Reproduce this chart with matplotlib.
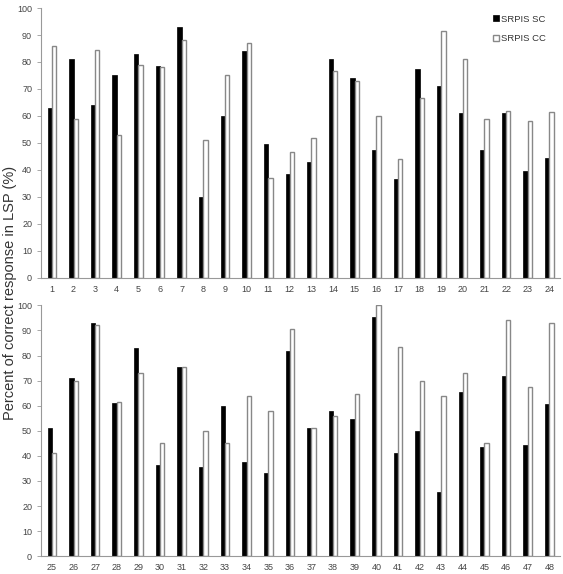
import matplotlib
matplotlib.use("Agg")
import matplotlib.pyplot as plt
import numpy as np

plt.rcParams['font.family'] = ['Liberation Sans', 'DejaVu Sans']

# Subject numbers
subjects_top = list(range(1, 25))
subjects_bottom = list(range(25, 49))

# Percent of correct response in LSP (%)
sc_top = [63, 81, 64, 75, 83, 78.5, 93, 30, 60, 84, 49.5, 38.5,
          43, 81, 74, 47.5, 36.5, 77.5, 71, 61, 47.5, 61, 39.5, 44.5]
cc_top = [86, 59, 84.5, 53, 79, 78, 88, 51, 75, 87, 37, 46.5,
          52, 76.5, 73, 60, 44, 66.5, 91.5, 81, 59, 62, 58, 61.5]
sc_bottom = [51, 71, 93, 61, 83, 36.5, 75.5, 35.5, 60, 37.5, 33, 82,
             51, 58, 54.5, 95.5, 41, 50, 25.5, 65.5, 43.5, 72, 44.5, 60.5]
cc_bottom = [41, 70, 92, 61.5, 73, 45, 75.5, 50, 45, 64, 58, 90.5,
             51, 56, 64.5, 100, 83.5, 70, 64, 73, 45, 94, 67.5, 93]

fig = plt.figure(figsize=(5.63, 5.74), dpi=100)
ax_top = fig.add_axes([0.073, 0.516, 0.922, 0.470])
ax_bot = fig.add_axes([0.073, 0.031, 0.922, 0.437])

grey = '#999999'
w = 0.2

def draw(ax, subjects, sc, cc, legend=False):
    x = np.arange(len(subjects))
    ax.bar(x - w / 2, sc, width=w, color='black', edgecolor='black',
           linewidth=0.5, label='SRPIS SC')
    ax.bar(x + w / 2, cc, width=w, color='white', edgecolor='#888888',
           linewidth=1.0, label='SRPIS CC')
    ax.set_xlim(-0.5, len(subjects) - 0.5)
    ax.set_ylim(0, 100)
    ax.set_yticks(range(0, 101, 10))
    ax.set_xticks(x)
    ax.set_xticklabels(subjects)
    for s in ['top', 'right']:
        ax.spines[s].set_visible(False)
    for s in ['left', 'bottom']:
        ax.spines[s].set_color(grey)
        ax.spines[s].set_linewidth(0.8)
    ax.tick_params(axis='y', colors=grey, labelcolor='#444444',
                   labelsize=6.5, length=3, width=0.6)
    ax.tick_params(axis='x', length=0, labelsize=6.5,
                   labelcolor='#444444', pad=5)
    if legend:
        ax.legend(loc='upper right', frameon=False, fontsize=6.8,
                  handlelength=0.6, handleheight=0.6, handletextpad=0.2,
                  labelspacing=1.1, borderaxespad=0.3,
                  bbox_to_anchor=(0.985, 1.0), labelcolor='#333333')

draw(ax_top, subjects_top, sc_top, cc_top, legend=True)
draw(ax_bot, subjects_bottom, sc_bottom, cc_bottom)

fig.text(0.018, 0.49, 'Percent of correct response in LSP (%)',
         rotation=90, va='center', ha='center', fontsize=10.5,
         color='#333333')

fig.savefig('out.png', dpi=100)
